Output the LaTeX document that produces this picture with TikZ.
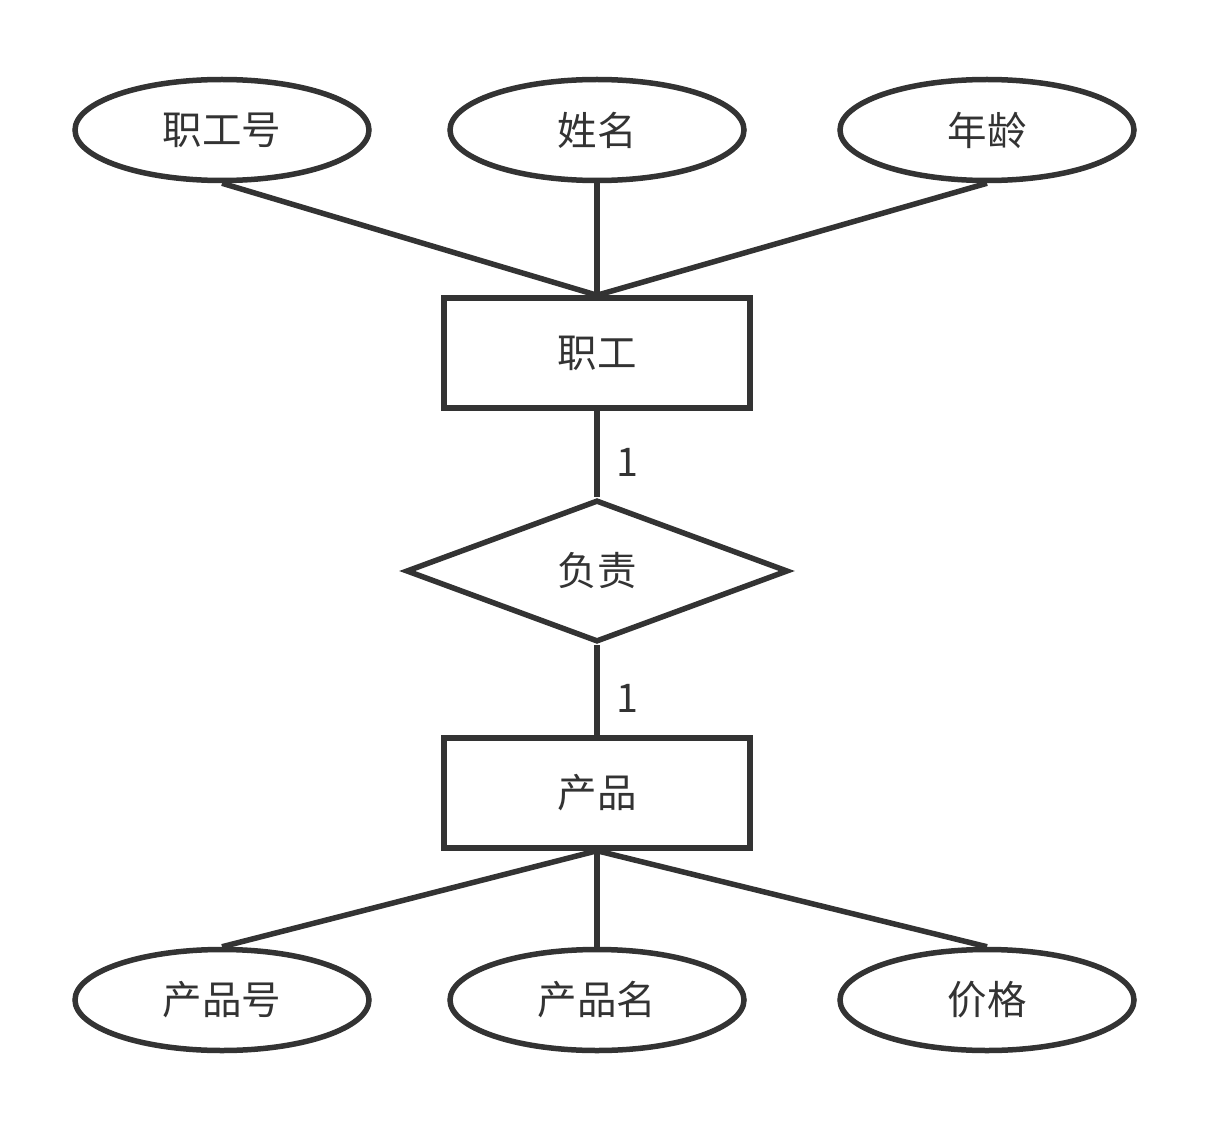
\documentclass[tikz,border=0pt]{standalone}
\usepackage{fontspec}
\setmainfont{Noto Sans CJK SC}
\usetikzlibrary{shapes.geometric}
\definecolor{linegray}{RGB}{51, 51, 51}

\begin{document}
\begin{tikzpicture}[x=1pt, y=-1pt, line width=5.5pt, draw=linegray,
	attr/.style = {ellipse, draw, minimum width=294pt, minimum height=101pt, inner sep=0pt},
	entity/.style = {rectangle, draw, minimum width=306pt, minimum height=110pt, inner sep=0pt},
	relation/.style = {diamond, draw, minimum width=382pt, minimum height=142pt, inner sep=0pt},
	card/.style = {right, xshift=13pt, yshift=-8pt, text=linegray},
	every node/.style = {text=linegray, font=\fontsize{39.5}{46}\selectfont}]
	\useasboundingbox (0,0) rectangle (1210,1123);

	% attributes of zhigong
	\node[attr] (zgh) at (222,130) {职工号};
	\node[attr] (xm) at (597,130) {姓名};
	\node[attr] (nl) at (987,130) {年龄};

	% entities and relation
	\node[entity] (zg) at (597,353) {职工};
	\node[relation] (fz) at (597,571) {负责};
	\node[entity] (cp) at (597,793) {产品};

	% attributes of chanpin
	\node[attr] (cph) at (222,1000) {产品号};
	\node[attr] (cpm) at (597,1000) {产品名};
	\node[attr] (jg) at (987,1000) {价格};

	% connectors
	\draw (zgh.south) -- (zg.north);
	\draw (xm.south) -- (zg.north);
	\draw (nl.south) -- (zg.north);
	\draw (zg.south) -- node[card] (c1) {1} (fz.north);
	\draw (fz.south) -- node[card] (c2) {1} (cp.north);
	\draw (cp.south) -- (cph.north);
	\draw (cp.south) -- (cpm.north);
	\draw (cp.south) -- (jg.north);
\end{tikzpicture}
\end{document}
